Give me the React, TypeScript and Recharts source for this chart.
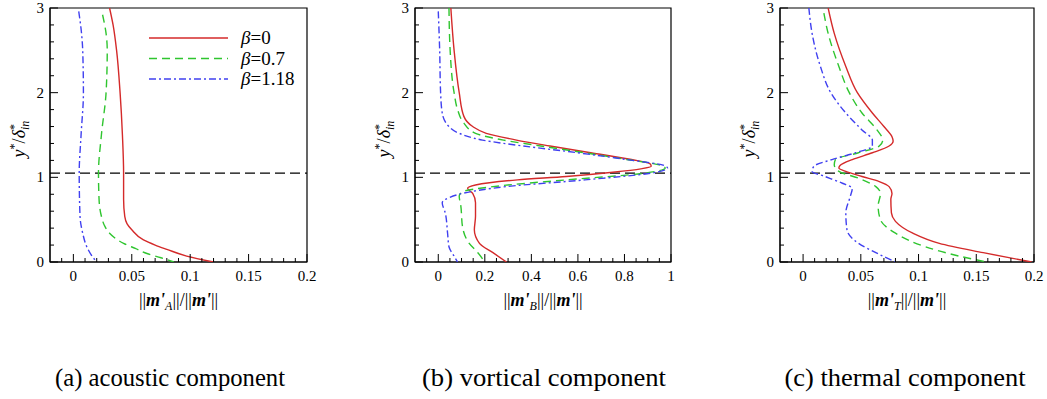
import { ScatterChart, Scatter, XAxis, YAxis, ReferenceLine, ReferenceArea, Legend } from 'recharts';

const FONT = 'Liberation Serif';

// [x, y] pairs, ordered from top (y = 3) to the wall (y = 0)
const acousticB0: [number, number][] = [
    [0.031, 3], [0.034, 2.8], [0.037, 2.5], [0.04, 2.0], [0.042, 1.5], [0.043, 1.05], [0.043, 0.74],
    [0.044, 0.54], [0.046, 0.45], [0.05, 0.38], [0.06, 0.26], [0.07, 0.2], [0.08, 0.15], [0.097, 0.07], [0.12, 0],
];
const acousticB07: [number, number][] = [
    [0.025, 2.92], [0.028, 2.7], [0.029, 2.5], [0.028, 2.0], [0.024, 1.5], [0.0215, 1.05], [0.022, 0.74],
    [0.024, 0.54], [0.027, 0.42], [0.031, 0.34], [0.043, 0.22], [0.053, 0.16], [0.063, 0.1], [0.075, 0.05], [0.086, 0],
];
const acousticB118: [number, number][] = [
    [0.0046, 2.96], [0.007, 2.7], [0.008, 2.5], [0.0086, 2.0], [0.0066, 1.5], [0.005, 1.05], [0.0057, 0.54],
    [0.008, 0.34], [0.0115, 0.18], [0.016, 0.07], [0.02, 0],
];

const vorticalB0: [number, number][] = [
    [0.054, 3], [0.068, 2.5], [0.09, 2.0], [0.11, 1.72], [0.148, 1.6], [0.206, 1.52], [0.336, 1.44],
    [0.48, 1.37], [0.655, 1.29], [0.83, 1.21], [0.91, 1.16], [0.915, 1.13], [0.87, 1.1], [0.75, 1.06],
    [0.55, 1.01], [0.34, 0.97], [0.16, 0.91], [0.126, 0.87], [0.148, 0.81], [0.16, 0.7], [0.16, 0.54],
    [0.155, 0.38], [0.177, 0.22], [0.235, 0.11], [0.293, 0],
];
const vorticalB07: [number, number][] = [
    [0.046, 3], [0.051, 2.5], [0.068, 2.0], [0.083, 1.8], [0.11, 1.64], [0.16, 1.52], [0.28, 1.44],
    [0.44, 1.37], [0.63, 1.29], [0.81, 1.21], [0.945, 1.15], [0.975, 1.11], [0.89, 1.05], [0.55, 0.97],
    [0.235, 0.89], [0.104, 0.83], [0.09, 0.78], [0.097, 0.66], [0.104, 0.42], [0.133, 0.22], [0.17, 0.11], [0.2, 0],
];
const vorticalB118: [number, number][] = [
    [0.0, 2.96], [0.006, 2.5], [0.01, 2.0], [0.017, 1.76], [0.046, 1.6], [0.09, 1.52], [0.19, 1.44],
    [0.365, 1.37], [0.6, 1.29], [0.81, 1.21], [0.97, 1.14], [0.985, 1.11], [0.916, 1.05], [0.63, 0.97],
    [0.29, 0.89], [0.104, 0.81], [0.046, 0.76], [0.017, 0.7], [0.03, 0.58], [0.04, 0.34], [0.046, 0.18],
    [0.068, 0.07], [0.083, 0],
];

const thermalB0: [number, number][] = [
    [0.0217, 3], [0.027, 2.7], [0.037, 2.31], [0.047, 2.0], [0.06, 1.76], [0.07, 1.6], [0.077, 1.48],
    [0.078, 1.43], [0.0745, 1.37], [0.06, 1.29], [0.0426, 1.21], [0.032, 1.14], [0.031, 1.11], [0.037, 1.07],
    [0.051, 1.01], [0.066, 0.95], [0.0745, 0.89], [0.077, 0.81], [0.076, 0.74], [0.0765, 0.58], [0.08, 0.48],
    [0.095, 0.34], [0.118, 0.22], [0.156, 0.11], [0.198, 0],
];
const thermalB07: [number, number][] = [
    [0.018, 2.94], [0.0217, 2.7], [0.031, 2.31], [0.04, 2.0], [0.051, 1.76], [0.064, 1.56], [0.069, 1.44],
    [0.066, 1.37], [0.048, 1.29], [0.028, 1.21], [0.027, 1.15], [0.031, 1.07], [0.048, 0.99], [0.063, 0.89],
    [0.067, 0.81], [0.065, 0.66], [0.067, 0.5], [0.08, 0.34], [0.106, 0.18], [0.135, 0.07], [0.159, 0],
];
const thermalB118: [number, number][] = [
    [0.005, 3], [0.0078, 2.7], [0.015, 2.31], [0.024, 2.0], [0.037, 1.76], [0.051, 1.56], [0.06, 1.44],
    [0.06, 1.37], [0.0455, 1.29], [0.025, 1.21], [0.0093, 1.13], [0.0078, 1.07], [0.019, 1.01], [0.034, 0.93],
    [0.0426, 0.87], [0.041, 0.78], [0.037, 0.58], [0.038, 0.38], [0.048, 0.22], [0.063, 0.11], [0.08, 0],
];

const betaLabels = ['0', '0.7', '1.18'];
const captions = ['(a) acoustic component', '(b) vortical component', '(c) thermal component'];
const subscripts = ['A', 'B', 'T'];
const interfaceY = 1.05;

const lineStyles = [
    { stroke: '#d42a2a', strokeDasharray: undefined },
    { stroke: '#2fc52f', strokeDasharray: '8 5' },
    { stroke: '#4040f0', strokeDasharray: '7 3 2 3' },
];

const txt = { fontFamily: FONT };

const steps = (from: number, to: number, step: number) => {
    const out: number[] = [];
    const n = Math.round((to - from) / step);
    for (let i = 0; i <= n; i++) out.push(+(from + i * step).toFixed(4));
    return out;
};

const yTicks = steps(0, 3, 0.2).concat([1, 2, 3]).filter((v, i, a) => a.indexOf(v) === i).sort((a, b) => a - b);

const isMajor = (v: number, step: number) => Math.abs(v / step - Math.round(v / step)) < 1e-6;

const fmt = (v: number) => String(+v.toFixed(3));

const YTick = (props: any) => {
    const { x, y, payload } = props;
    const v = payload.value;
    const major = isMajor(v, 1);
    return (
        <g>
            <line x1={x} x2={x + (major ? 8 : 4)} y1={y} y2={y} stroke='#000' />
            {major && (
                <text x={x - 6} y={y + 5} textAnchor='end' fontSize={15} style={txt} fill='#000'>
                    {fmt(v)}
                </text>
            )}
        </g>
    );
};

const makeXTick = (majorStep: number) => (props: any) => {
    const { x, y, payload } = props;
    const v = payload.value;
    const major = isMajor(v, majorStep);
    return (
        <g>
            <line x1={x} x2={x} y1={y} y2={y - (major ? 8 : 4)} stroke='#000' />
            {major && (
                <text x={x} y={y + 19} textAnchor='middle' fontSize={15} style={txt} fill='#000'>
                    {fmt(v)}
                </text>
            )}
        </g>
    );
};

const YLabel = ({ viewBox }: any) => {
    const cx = viewBox.x + viewBox.width - 25;
    const cy = viewBox.y + viewBox.height / 2 + 4;
    return (
        <text x={cx} y={cy} transform={`rotate(-90 ${cx} ${cy})`} textAnchor='middle' fontSize={18} style={txt} fill='#000'>
            <tspan fontStyle='italic'>y</tspan>
            <tspan dy={-7} fontSize={12}>*</tspan>
            <tspan dy={7}>/</tspan>
            <tspan fontStyle='italic'>δ</tspan>
            <tspan dy={-7} fontSize={12}>*</tspan>
            <tspan dy={11} dx={-6} fontSize={12} fontStyle='italic'>in</tspan>
        </text>
    );
};

const makeXLabel = (sub: string) => ({ viewBox }: any) => {
    const cx = viewBox.x + viewBox.width / 2;
    const cy = viewBox.y + 44;
    return (
        <text x={cx} y={cy} textAnchor='middle' fontSize={18} style={txt} fill='#000'>
            <tspan>||</tspan>
            <tspan fontWeight='bold' fontStyle='italic'>m'</tspan>
            <tspan dy={4} fontSize={12} fontStyle='italic'>{sub}</tspan>
            <tspan dy={-4}>||/||</tspan>
            <tspan fontWeight='bold' fontStyle='italic'>m'</tspan>
            <tspan>||</tspan>
        </text>
    );
};

const LegendBox = () => (
    <svg width={160} height={70}>
        {betaLabels.map((b, i) => (
            <g key={b}>
                <line x1={0} x2={79} y1={10 + i * 20.5} y2={10 + i * 20.5} strokeWidth={1.4} {...lineStyles[i]} />
                <text x={92} y={16 + i * 20.5} fontSize={19} style={txt} fill='#000'>
                    <tspan fontStyle='italic'>β</tspan>={b}
                </text>
            </g>
        ))}
    </svg>
);

const noDot = () => <g />;

interface PanelProps {
    left: number;
    width: number;
    margin: { top: number; right: number; bottom: number; left: number };
    xDomain: [number, number];
    xTicks: number[];
    xMajor: number;
    sub: string;
    series: [number, number][][];
    legend?: boolean;
}

const Panel = ({ left, width, margin, xDomain, xTicks, xMajor, sub, series, legend }: PanelProps) => (
    <div style={{ position: 'absolute', left, top: 0 }}>
        <ScatterChart width={width} height={320} margin={margin}>
            <XAxis
                type='number'
                dataKey='x'
                domain={xDomain}
                allowDataOverflow
                ticks={xTicks}
                interval={0}
                tickSize={0}
                tickMargin={0}
                tickLine={false}
                tick={makeXTick(xMajor)}
                height={30}
                stroke='#000'
                label={{ content: makeXLabel(sub) }}
            />
            <YAxis
                type='number'
                dataKey='y'
                domain={[0, 3]}
                allowDataOverflow
                ticks={yTicks}
                interval={0}
                tickSize={0}
                tickMargin={0}
                tickLine={false}
                tick={YTick}
                width={40}
                stroke='#000'
                label={{ content: YLabel }}
            />
            <ReferenceArea x1={xDomain[0]} x2={xDomain[1]} y1={0} y2={3} fill='none' stroke='#000' strokeWidth={1.2} />
            <ReferenceLine y={interfaceY} stroke='#000' strokeDasharray='10 5' strokeWidth={1.3} />
            {series.map((pts, i) => (
                <Scatter
                    key={i}
                    name={`β=${betaLabels[i]}`}
                    data={pts.map(([x, y]) => ({ x, y }))}
                    line={{ strokeWidth: 1.4, ...lineStyles[i] }}
                    lineJointType='monotoneY'
                    shape={noDot}
                    isAnimationActive={false}
                />
            ))}
            {legend && (
                <Legend
                    layout='vertical'
                    align='center'
                    verticalAlign='middle'
                    content={LegendBox}
                    wrapperStyle={{ position: 'absolute', left: 149, top: 28, width: 160, height: 70 }}
                />
            )}
        </ScatterChart>
    </div>
);

export default function App() {
    const captionX = [170, 544, 905];
    const captionW = [230, 244, 241];
    return (
        <div style={{ position: 'absolute', left: 0, top: 0, width: 1047, height: 399, background: '#fff', overflow: 'hidden', fontFamily: FONT }}>
            <Panel
                left={0}
                width={350}
                margin={{ top: 8, right: 43, bottom: 28, left: 10 }}
                xDomain={[-0.02, 0.2]}
                xTicks={steps(-0.01, 0.2, 0.01)}
                xMajor={0.05}
                sub={subscripts[0]}
                series={[acousticB0, acousticB07, acousticB118]}
                legend
            />
            <Panel
                left={350}
                width={350}
                margin={{ top: 8, right: 29, bottom: 28, left: 25 }}
                xDomain={[-0.1, 1]}
                xTicks={steps(-0.05, 1, 0.05)}
                xMajor={0.2}
                sub={subscripts[1]}
                series={[vorticalB0, vorticalB07, vorticalB118]}
            />
            <Panel
                left={700}
                width={347}
                margin={{ top: 8, right: 13, bottom: 28, left: 40 }}
                xDomain={[-0.02, 0.2]}
                xTicks={steps(-0.01, 0.2, 0.01)}
                xMajor={0.05}
                sub={subscripts[2]}
                series={[thermalB0, thermalB07, thermalB118]}
            />
            <svg width={1047} height={399} style={{ position: 'absolute', left: 0, top: 0, pointerEvents: 'none' }}>
                {captions.map((c, i) => (
                    <text
                        key={c}
                        x={captionX[i]}
                        y={386}
                        textAnchor='middle'
                        fontSize={26}
                        textLength={captionW[i]}
                        lengthAdjust='spacingAndGlyphs'
                        style={txt}
                        fill='#000'
                    >
                        {c}
                    </text>
                ))}
            </svg>
        </div>
    );
}
